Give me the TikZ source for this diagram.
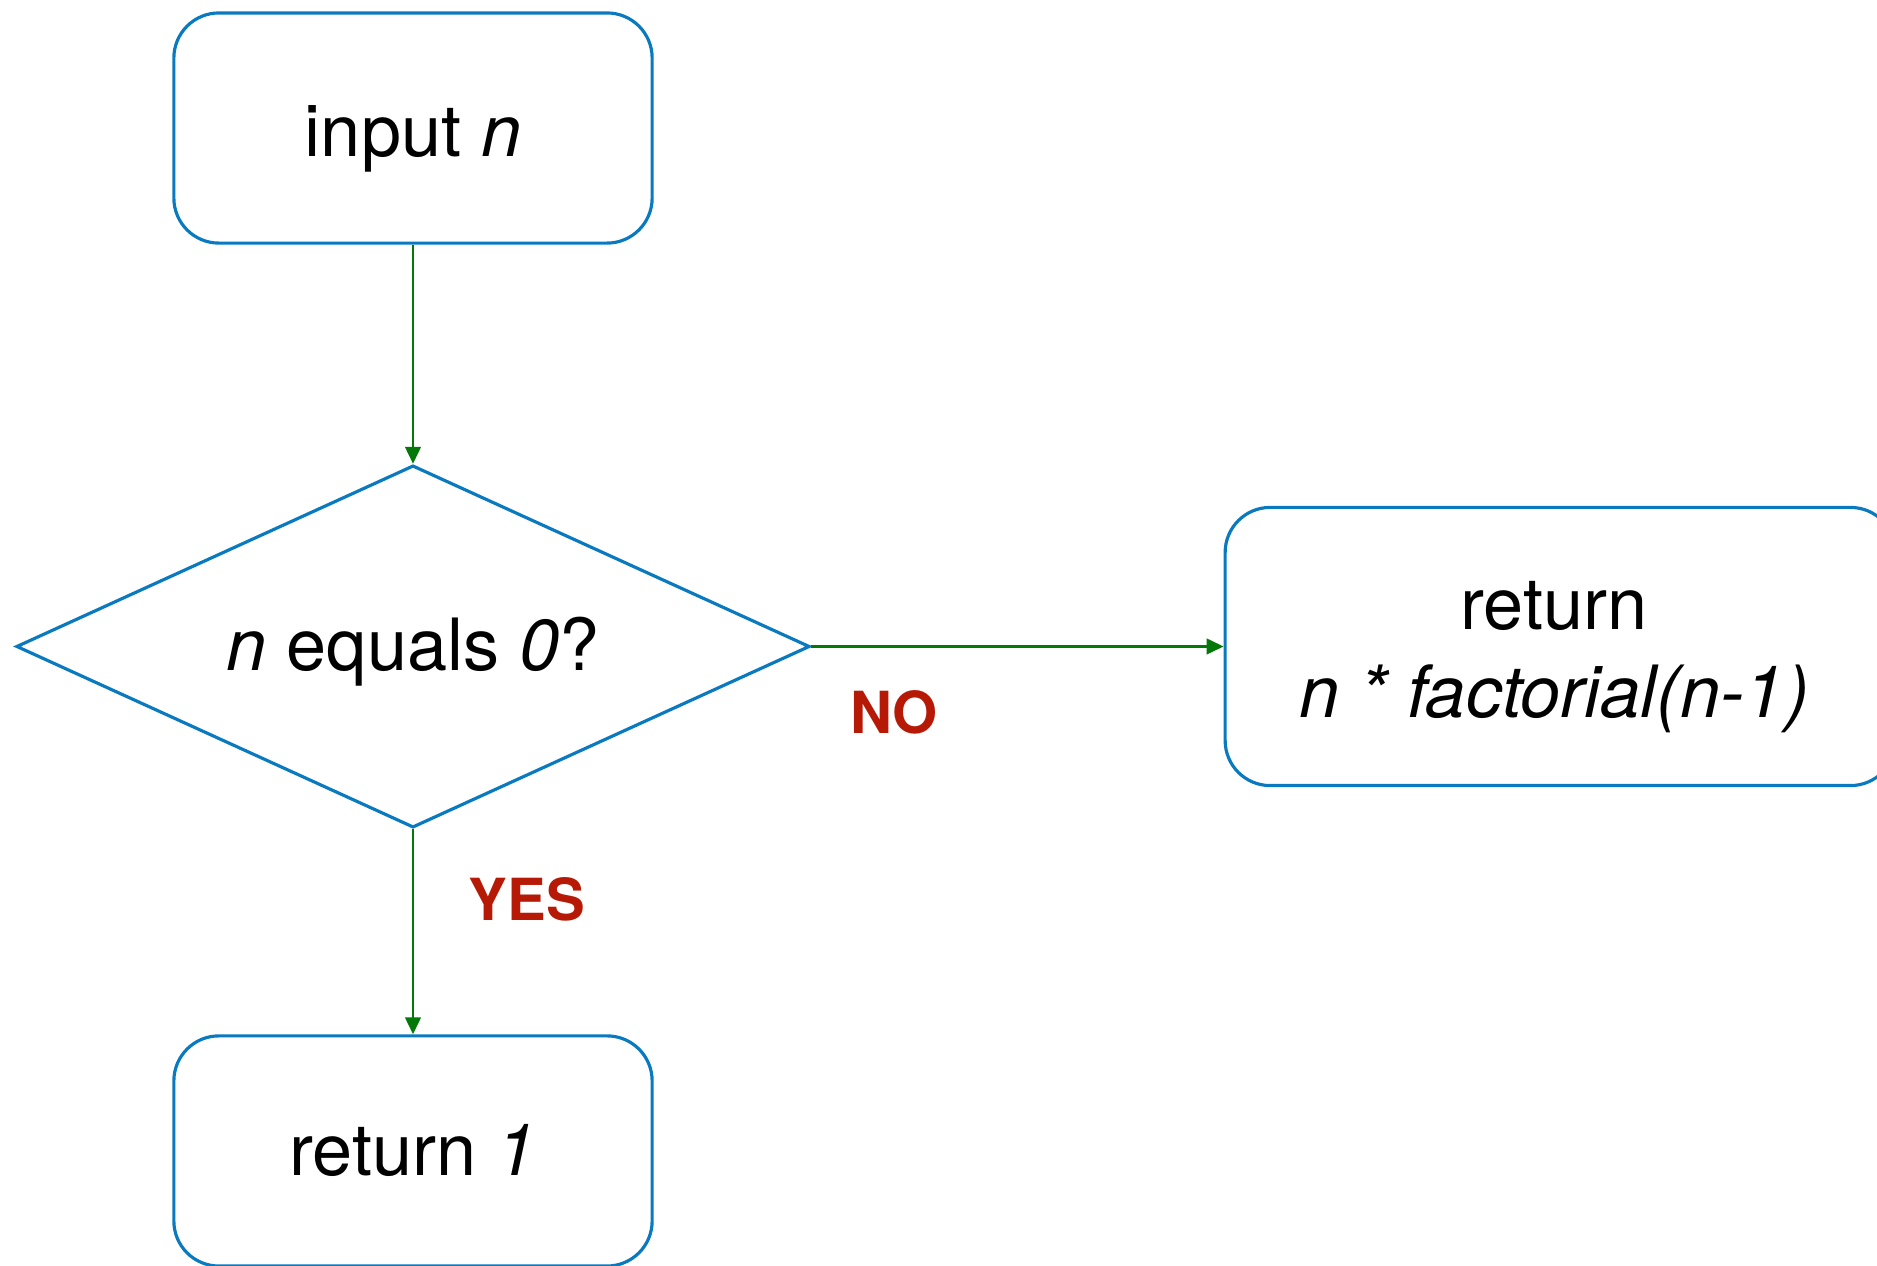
\documentclass[tikz,border=0pt]{standalone}
\usepackage{fontspec}
\setmainfont{TeX Gyre Heros}
\usetikzlibrary{arrows.meta, positioning, shapes.geometric}
\definecolor{boxblue}{RGB}{10,122,192}
\definecolor{flowgreen}{RGB}{5,120,10}
\definecolor{labelred}{RGB}{182,26,6}

\begin{document}
\begin{tikzpicture}[x=0.01cm,y=-0.01cm,
	procstyle/.style={
	draw=boxblue,line width=0.9pt,rectangle,rounded corners=0.45cm,
	minimum width=4.78cm,minimum height=2.3cm,align=center,
	font=\fontsize{20.5}{24.8}\selectfont
	},
	decstyle/.style={
	draw=boxblue,line width=0.9pt,diamond,aspect=2.19,inner sep=0pt,
	minimum width=7.93cm,minimum height=3.62cm,
	font=\fontsize{20.5}{24.8}\selectfont
	},
	flowarrow/.style={draw=flowgreen,line width=0.75pt,
	-{Triangle[length=4.8pt,width=4.4pt]}},
	answer/.style={text=labelred,font=\fontsize{16.5}{20}\selectfont\bfseries}
]
	\useasboundingbox (0,0) rectangle (1877,1265);

	\node[procstyle,text height=20.5pt,text depth=4.3pt] at (413,128) (inp) {input \textit{n}};
	\node[decstyle,below=2.19cm of inp,text height=18pt,text depth=4.3pt] (cond) {\textit{n} equals \textit{0}?};
	\node[procstyle,below=2.05cm of cond] (ret1) {return \textit{1}};
	\node[procstyle,right=4.12cm of cond,minimum width=6.7cm,minimum height=2.78cm] (recbox) {};
	\node[align=center,font=\fontsize{20.5}{24.8}\selectfont] at (1554,657) (rectext) {return\\\textit{n * factorial(n-1)}};

	\node[answer] at (894,712) (no) {NO};
	\node[answer] at (527,899) (yes) {YES};

	\draw[flowarrow] (inp) -- (cond);
	\draw[flowarrow] (cond) -- (recbox);
	\draw[flowarrow] (cond) -- (ret1);
\end{tikzpicture}
\end{document}
